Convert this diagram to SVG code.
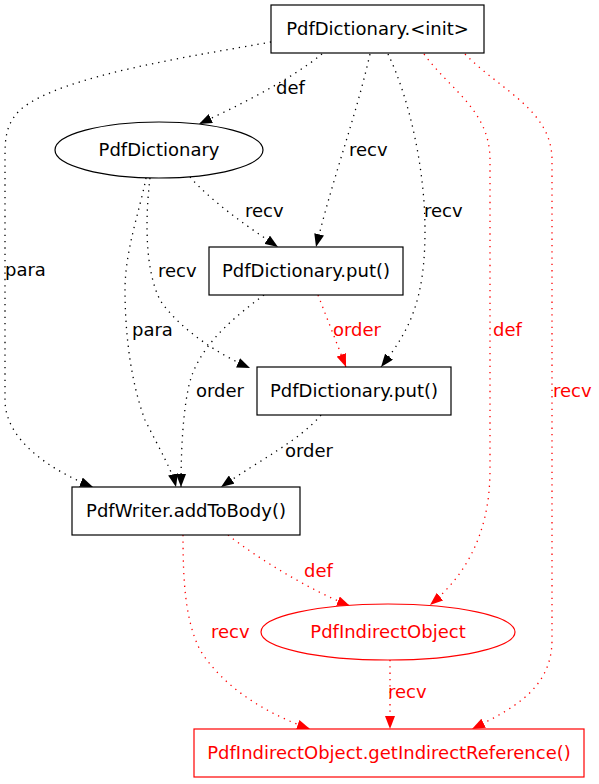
<svg xmlns="http://www.w3.org/2000/svg" width="599" height="784" viewBox="0 0 599 784">
<style>
text{font-family:"DejaVu Sans",sans-serif;font-size:18px}
.n{fill:#fff;stroke:#000;stroke-width:1.2}
.nr{fill:#fff;stroke:#f00;stroke-width:1.2}
.t{fill:#000;text-anchor:middle}
.tr{fill:#f00;text-anchor:middle}
.e{fill:none;stroke:#000;stroke-width:1.3;stroke-dasharray:1.3,5}
.er{fill:none;stroke:#f00;stroke-width:1.3;stroke-dasharray:1.3,5}
.l{fill:#000}
.lr{fill:#f00}
</style>
<defs>
<marker id="a" viewBox="0 0 13 10" refX="13" refY="5" markerWidth="13" markerHeight="10" markerUnits="userSpaceOnUse" orient="auto"><path d="M0,0L13,5L0,10z" fill="#000"/></marker>
<marker id="ar" viewBox="0 0 13 10" refX="13" refY="5" markerWidth="13" markerHeight="10" markerUnits="userSpaceOnUse" orient="auto"><path d="M0,0L13,5L0,10z" fill="#f00"/></marker>
</defs>
<rect width="599" height="784" fill="#fff"/>
<g id="edges">
<path class="e" marker-end="url(#a)" d="M322,54 C290,80 240,105 199,124"/>
<path class="e" marker-end="url(#a)" d="M271,42 C200,55 60,75 20,110 C5,125 5,140 5,160 L5,400 C5,440 50,470 93,487"/>
<path class="e" marker-end="url(#a)" d="M370,54 C355,120 335,170 316,247"/>
<path class="e" marker-end="url(#a)" d="M388,54 C410,100 425,170 425,230 C425,300 410,330 381,367"/>
<path class="er" marker-end="url(#ar)" d="M424,54 C450,90 490,110 490,160 L490,470 C490,540 460,580 430,605"/>
<path class="er" marker-end="url(#ar)" d="M465,54 C500,90 552,110 552,160 L552,640 C552,690 510,710 472,729"/>
<path class="e" marker-end="url(#a)" d="M190,177 C210,200 245,225 278,247"/>
<path class="e" marker-end="url(#a)" d="M150,178 C145,220 145,270 160,300 C180,330 220,355 250,368"/>
<path class="e" marker-end="url(#a)" d="M146,178 C140,210 125,250 125,290 C125,330 130,380 145,420 C160,450 172,470 176,487"/>
<path class="e" marker-end="url(#a)" d="M264,295 C230,320 195,350 188,390 C182,420 181,460 181,487"/>
<path class="er" marker-end="url(#ar)" d="M318,295 L346,367"/>
<path class="e" marker-end="url(#a)" d="M321,415 C300,440 260,460 221,487"/>
<path class="er" marker-end="url(#ar)" d="M183,535 C183,580 185,620 200,650 C225,690 270,715 310,729"/>
<path class="er" marker-end="url(#ar)" d="M228,535 C260,560 310,590 350,606"/>
<path class="er" marker-end="url(#ar)" d="M390,660 L390,729"/>
<text class="l" x="276" y="94">def</text>
<text class="l" x="349" y="156">recv</text>
<text class="l" x="424" y="217">recv</text>
<text class="l" x="245" y="217">recv</text>
<text class="l" x="5" y="276">para</text>
<text class="l" x="158" y="277">recv</text>
<text class="l" x="132" y="336">para</text>
<text class="lr" x="333" y="336">order</text>
<text class="lr" x="493" y="336">def</text>
<text class="l" x="196" y="397">order</text>
<text class="lr" x="553" y="397">recv</text>
<text class="l" x="285" y="457">order</text>
<text class="lr" x="304" y="577">def</text>
<text class="lr" x="211" y="638">recv</text>
<text class="lr" x="388" y="698">recv</text>
</g>
<g id="n_init"><rect class="n" x="271" y="5" width="213" height="48"/><text class="t" x="377.5" y="35">PdfDictionary.&lt;init&gt;</text></g>
<g id="n_dict"><ellipse class="n" cx="159" cy="150" rx="104" ry="28"/><text class="t" x="159" y="156">PdfDictionary</text></g>
<g id="n_put1"><rect class="n" x="209" y="247" width="194" height="48"/><text class="t" x="306" y="277">PdfDictionary.put()</text></g>
<g id="n_put2"><rect class="n" x="257" y="367" width="194" height="48"/><text class="t" x="354" y="397">PdfDictionary.put()</text></g>
<g id="n_add"><rect class="n" x="72" y="487" width="228" height="48"/><text class="t" x="186" y="517">PdfWriter.addToBody()</text></g>
<g id="n_pio"><ellipse class="nr" cx="388" cy="632" rx="127" ry="28"/><text class="tr" x="388" y="638">PdfIndirectObject</text></g>
<g id="n_ref"><rect class="nr" x="194" y="729" width="390" height="48"/><text class="tr" x="389" y="759">PdfIndirectObject.getIndirectReference()</text></g>
</svg>
